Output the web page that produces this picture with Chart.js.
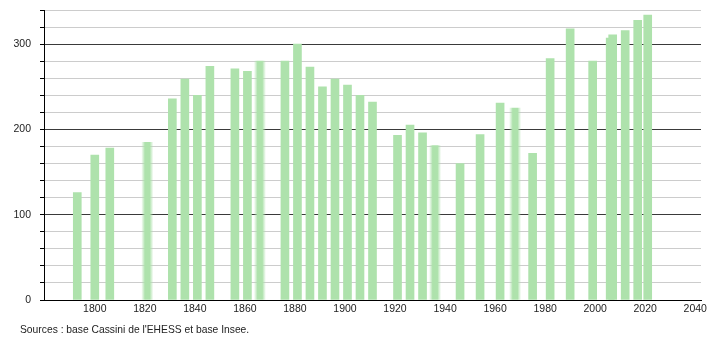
<!DOCTYPE html>
<html>
<head>
<meta charset="utf-8">
<script src="https://cdn.jsdelivr.net/npm/chart.js@4/dist/chart.umd.min.js"></script>
<style>
  html, body { margin: 0; padding: 0; background: #fff; }
  #wrap { position: relative; width: 710px; height: 340px; }
  #src { position: absolute; left: 20px; top: 324px; font: 10.3px "Liberation Sans", Arial, sans-serif; color: #222; white-space: nowrap; }
</style>
</head>
<body>
<div id="wrap">
  <canvas id="c" width="710" height="340"></canvas>
  <div id="src">Sources : base Cassini de l'EHESS et base Insee.</div>
</div>
<script>
// Census years and population values
const years = [1793, 1800, 1806, 1821, 1831, 1836, 1841, 1846, 1856, 1861, 1866, 1876, 1881, 1886, 1891, 1896, 1901, 1906, 1911, 1921, 1926, 1931, 1936, 1946, 1954, 1962, 1968, 1975, 1982, 1990, 1999, 2006, 2007, 2012, 2017, 2021];
const population = [126, 170, 178, 185, 236, 259, 240, 274, 271, 268, 280, 280, 300, 273, 250, 259, 252, 240, 232, 193, 205, 196, 181, 160, 194, 231, 225, 172, 283, 318, 280, 307, 311, 316, 328, 334];
// Years whose bars look blurred in the reference
const blurredYears = [1821, 1866, 1936, 1968];
// Tick values
const xTickValues = [1800, 1820, 1840, 1860, 1880, 1900, 1920, 1940, 1960, 1980, 2000, 2020, 2040];
const yTickValues = [0, 20, 40, 60, 80, 100, 120, 140, 160, 180, 200, 220, 240, 260, 280, 300, 320, 340];
const yLabelValues = [0, 100, 200, 300];

const GREEN = 'rgb(174,226,172)';
const GREEN0 = 'rgba(174,226,172,0)';

const sharpData = [], blurData = [];
years.forEach((y, i) => {
  const p = { x: y, y: population[i] };
  if (blurredYears.includes(y)) blurData.push(p); else sharpData.push(p);
});

function blurFill(ctx) {
  const chart = ctx.chart;
  const xs = chart.scales && chart.scales.x;
  const raw = ctx.raw;
  if (!xs || !raw || !chart.chartArea) return GREEN;
  const cx = xs.getPixelForValue(raw.x);
  const g = chart.ctx.createLinearGradient(cx - 6, 0, cx + 6, 0);
  g.addColorStop(0, GREEN0);
  g.addColorStop(0.3, GREEN);
  g.addColorStop(0.7, GREEN);
  g.addColorStop(1, GREEN0);
  return g;
}

Chart.defaults.font.family = '"Liberation Sans", Arial, sans-serif';
Chart.defaults.font.size = 10.5;
Chart.defaults.color = '#222';

new Chart(document.getElementById('c'), {
  type: 'bar',
  data: {
    datasets: [
      { data: sharpData, backgroundColor: GREEN, barThickness: 8, borderWidth: 0 },
      { data: blurData, backgroundColor: blurFill, barThickness: 12, borderWidth: 0 }
    ]
  },
  options: {
    responsive: false,
    animation: false,
    grouped: false,
    layout: { padding: { top: 10, right: 9, left: 0, bottom: 0 } },
    plugins: { legend: { display: false }, tooltip: { enabled: false }, title: { display: false } },
    scales: {
      x: {
        type: 'linear',
        offset: false,
        min: 1779.7,
        max: 2042.3,
        afterBuildTicks: s => { s.ticks = xTickValues.map(v => ({ value: v })); },
        afterFit: s => { s.height = 40; s.paddingLeft = 0; s.paddingRight = 0; },
        grid: { display: false, drawTicks: false, offset: false },
        border: { display: true, color: '#000', width: 1 },
        ticks: { padding: 3, maxRotation: 0, autoSkip: false, callback: v => String(v) }
      },
      y: {
        type: 'linear',
        min: 0,
        max: 340,
        afterBuildTicks: s => { s.ticks = yTickValues.map(v => ({ value: v })); },
        afterFit: s => { s.width = 44; s.paddingTop = 0; s.paddingBottom = 0; },
        grid: {
          color: c => (c.tick && c.tick.value % 100 === 0) ? (c.tick.value === 0 ? '#000' : '#3a3a3a') : '#cccccc',
          tickColor: '#000',
          tickLength: 4,
          lineWidth: 1
        },
        border: { display: true, color: '#000', width: 1 },
        ticks: {
          padding: 9,
          autoSkip: false,
          callback: v => yLabelValues.includes(v) ? String(v) : ''
        }
      }
    }
  }
});
</script>
</body>
</html>
